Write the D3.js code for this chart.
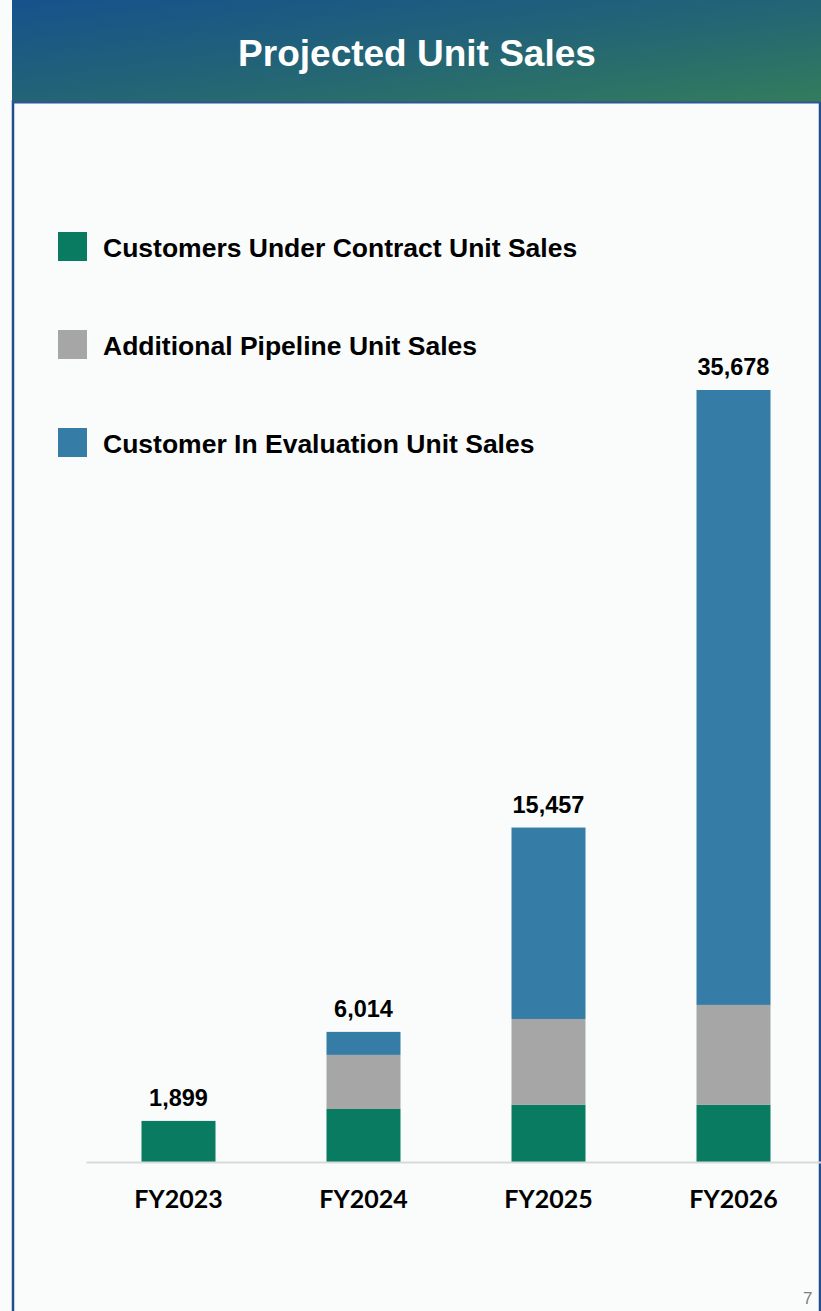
<!DOCTYPE html>
<html>
<head>
<meta charset="utf-8">
<script src="https://cdn.jsdelivr.net/npm/d3@7"></script>
<style>
  html, body { margin: 0; padding: 0; background: #ffffff; }
  svg { display: block; }
</style>
</head>
<body>
<svg id="svg" width="821" height="1311"></svg>
<script>
// data
var years = ["FY2023", "FY2024", "FY2025", "FY2026"];
var underContract = [1899, 2450, 2640, 2640];
var pipeline = [0, 2500, 3970, 4620];
var evaluation = [0, 1064, 8847, 28418];
var totals = [1899, 6014, 15457, 35678];
var seriesNames = ["Customers Under Contract Unit Sales", "Additional Pipeline Unit Sales", "Customer In Evaluation Unit Sales"];
var seriesColors = ["#087b60", "#a6a6a6", "#357ca6"];

function draw() {
  var svg = d3.select("#svg");

  // panel background + borders
  svg.append("rect").attr("x", 0).attr("y", 0).attr("width", 821).attr("height", 1311).attr("fill", "#fafcfc");
  svg.append("line").attr("x1", 13).attr("x2", 13).attr("y1", 100).attr("y2", 1311)
    .attr("stroke", "#1f4f8c").attr("stroke-width", 2.5);
  svg.append("line").attr("x1", 820).attr("x2", 820).attr("y1", 100).attr("y2", 1311)
    .attr("stroke", "#1f4f8c").attr("stroke-width", 2.5);

  // header with gradient
  var defs = svg.append("defs");
  var grad = defs.append("linearGradient").attr("id", "hdr")
    .attr("x1", "0%").attr("y1", "0%").attr("x2", "100%").attr("y2", "100%");
  grad.append("stop").attr("offset", "0%").attr("stop-color", "#16528c");
  grad.append("stop").attr("offset", "50%").attr("stop-color", "#236476");
  grad.append("stop").attr("offset", "100%").attr("stop-color", "#347c5c");
  svg.append("rect").attr("x", 12).attr("y", 0).attr("width", 809).attr("height", 103)
    .attr("fill", "url(#hdr)");
  svg.append("line").attr("x1", 12).attr("x2", 821).attr("y1", 102.5).attr("y2", 102.5)
    .attr("stroke", "#2f5596").attr("stroke-width", 2);
  svg.append("text")
    .attr("x", 417).attr("y", 66)
    .attr("text-anchor", "middle")
    .attr("font-family", "Liberation Sans, Arial, sans-serif")
    .attr("font-weight", "bold")
    .attr("font-size", 37)
    .attr("fill", "#ffffff")
    .text("Projected Unit Sales");

  // legend
  var legend = svg.append("g");
  seriesNames.forEach(function(name, i) {
    legend.append("rect")
      .attr("x", 58).attr("y", 232 + i * 98)
      .attr("width", 29).attr("height", 29)
      .attr("fill", seriesColors[i]);
    legend.append("text")
      .attr("x", 103).attr("y", 257 + i * 98)
      .attr("font-family", "Liberation Sans, Arial, sans-serif")
      .attr("font-weight", "bold")
      .attr("font-size", 26.5)
      .attr("fill", "#000")
      .text(name);
  });

  // scales
  var rows = years.map(function(y, i) {
    return { year: y, a: underContract[i], b: pipeline[i], c: evaluation[i], total: totals[i] };
  });
  var stack = d3.stack().keys(["a", "b", "c"]);
  var layers = stack(rows);

  var scaleX = d3.scaleBand().domain(years).range([86, 826]).paddingInner(0.6).paddingOuter(0.3);
  var scaleY = d3.scaleLinear().domain([0, d3.max(totals)]).range([1162, 390]);

  // bars
  var gBars = svg.append("g");
  gBars.selectAll("g")
    .data(layers)
    .enter()
    .append("g")
    .attr("fill", function(d, i) { return seriesColors[i]; })
    .selectAll("rect")
    .data(function(d) { return d; })
    .enter()
    .append("rect")
    .attr("x", function(d) { return scaleX(d.data.year); })
    .attr("y", function(d) { return scaleY(d[1]); })
    .attr("width", scaleX.bandwidth())
    .attr("height", function(d) { return scaleY(d[0]) - scaleY(d[1]); });

  // axis
  var axisX = d3.axisBottom(scaleX).tickSize(0).tickPadding(28);
  var gAxisX = svg.append("g").attr("transform", "translate(0,1162)");
  gAxisX.call(axisX);
  gAxisX.select(".domain").attr("stroke", "#d9d9d9").attr("stroke-width", 2);
  gAxisX.selectAll("text")
    .attr("font-family", "Lato, sans-serif")
    .attr("font-weight", "bold")
    .attr("font-size", 25)
    .attr("fill", "#000");

  // total labels
  svg.selectAll(".total")
    .data(rows)
    .enter()
    .append("text")
    .attr("class", "total")
    .attr("x", function(d) { return scaleX(d.year) + scaleX.bandwidth() / 2; })
    .attr("y", function(d) { return scaleY(d.total) - 15; })
    .attr("text-anchor", "middle")
    .attr("font-family", "Liberation Sans, Arial, sans-serif")
    .attr("font-weight", "bold")
    .attr("font-size", 23.5)
    .attr("fill", "#000")
    .text(function(d) { return d3.format(",")(d.total); });

  // page number in the corner
  svg.append("text")
    .attr("x", 803).attr("y", 1304)
    .attr("font-family", "Liberation Sans, Arial, sans-serif")
    .attr("font-size", 17)
    .attr("fill", "#808080")
    .text("7");
}
draw();
</script>
</body>
</html>
